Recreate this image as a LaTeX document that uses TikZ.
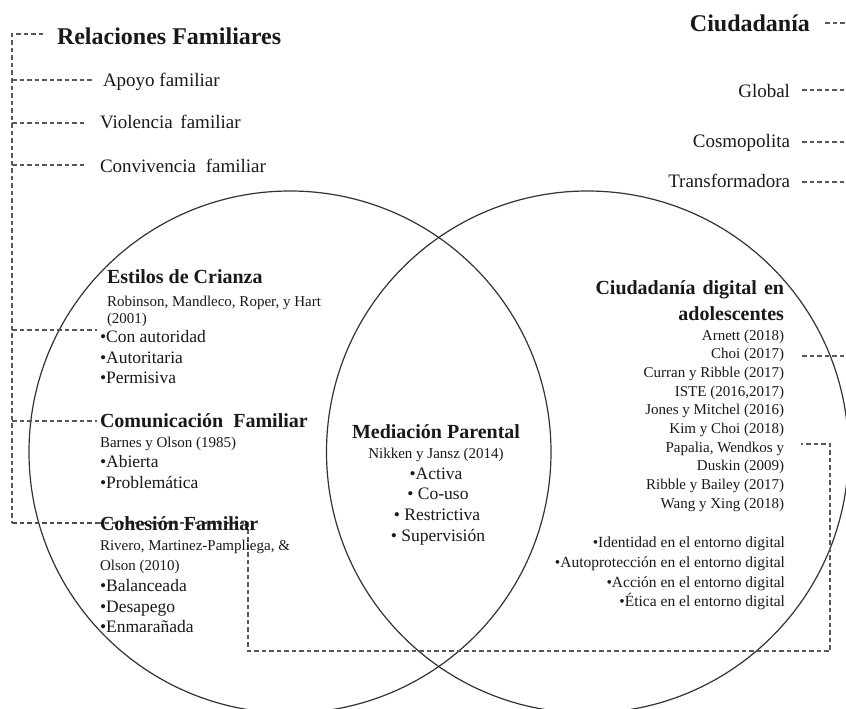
\documentclass[tikz,border=0pt]{standalone}
\usepackage{fontspec}
\setmainfont{Liberation Serif}
\begin{document}
\begin{tikzpicture}[x=1pt,y=-1pt,
  circ/.style={draw=black!80, line width=1.2pt, circle, inner sep=0pt, outer sep=0pt, minimum size=522pt},
  dline/.style={draw=black!65, line width=1.3pt, dash pattern=on 4.5pt off 3pt},
  dbold/.style={draw=black!70, line width=2pt, dash pattern=on 4.5pt off 3pt},
  txt/.style={inner sep=0pt, outer sep=0pt, text=black!90},
  hdr/.style={txt, font=\fontsize{24}{26}\selectfont\bfseries},
  sec/.style={txt, font=\fontsize{20}{22}\selectfont\bfseries},
  item/.style={txt, font=\fontsize{19}{21}\selectfont},
  body/.style={txt, font=\fontsize{15}{17}\selectfont},
  bul/.style={txt, font=\fontsize{17.5}{20}\selectfont},
  rbul/.style={txt, font=\fontsize{15.5}{18}\selectfont}
]
\useasboundingbox (0,0) rectangle (846,709);
\fill[white] (0,0) rectangle (846,709);

% circles
\node[circ] (lc) at (290,452) {};
\node[circ] (rc) at (587.5,452) {};

% left bracket coordinates
\coordinate (t0) at (12,34);   \coordinate (t1) at (43,34);
\coordinate (a0) at (12,80);   \coordinate (a1) at (92,80);
\coordinate (v0) at (12,123);  \coordinate (v1) at (85,123);
\coordinate (c0) at (12,165);  \coordinate (c1) at (85,165);
\coordinate (e0) at (12,330);  \coordinate (e1) at (97,330);
\coordinate (m0) at (12,421);  \coordinate (m1) at (97,421);
\coordinate (h0) at (12,523);  \coordinate (h1) at (97,523);
\coordinate (h2) at (248,523); \coordinate (h3) at (248,651);
\coordinate (h4) at (830,651); \coordinate (h5) at (830,444);
\coordinate (h6) at (801,444);

\draw[dline] (t1) -- (t0) -- (h0);
\draw[dline] (a0) -- (a1);
\draw[dline] (v0) -- (v1);
\draw[dline] (c0) -- (c1);
\draw[dline] (e0) -- (e1);
\draw[dline] (m0) -- (m1);
\draw[dbold] (h0) -- (h1);
\draw[dline] (h1) -- (h2) -- (h3) -- (h4) -- (h5) -- (h6);

% right dashes
\coordinate (q0) at (825,23);  \coordinate (q1) at (846,23);
\coordinate (g0) at (802,90);  \coordinate (g1) at (846,90);
\coordinate (k0) at (802,142); \coordinate (k1) at (846,142);
\coordinate (f0) at (802,182); \coordinate (f1) at (846,182);
\coordinate (s0) at (802,356); \coordinate (s1) at (846,356);
\draw[dline] (q0) -- (q1);
\draw[dline] (g0) -- (g1);
\draw[dline] (k0) -- (k1);
\draw[dline] (f0) -- (f1);
\draw[dline] (s0) -- (s1);

% top-left texts
\node[hdr, anchor=base west] (rf) at (57,45) {Relaciones Familiares};
\node[item, anchor=base west] (apoyo) at (103,87) {Apoyo familiar};
\node[item, anchor=base west] (viol) at (100,128) {Violencia\hspace{3pt} familiar};
\node[item, anchor=base west] (conv) at (100,172) {Convivencia\hspace{5pt} familiar};

% top-right texts
\node[hdr, anchor=base east] (ciu) at (810,32) {Ciudadanía};
\node[item, anchor=base east] (glob) at (790,97) {Global};
\node[item, anchor=base east] (cosm) at (790,147) {Cosmopolita};
\node[item, anchor=base east] (trans) at (790,187) {Transformadora};

% left circle texts
\node[sec, anchor=base west] (est) at (107,283) {Estilos de Crianza};
\node[body, anchor=base west] (rob) at (107,306) {Robinson, Mandleco, Roper, y Hart};
\node[body, anchor=base west] (rob2) at (107,323) {(2001)};
\node[bul, anchor=base west] (e1t) at (100,342) {•Con autoridad};
\node[bul, anchor=base west] (e2t) at (100,363) {•Autoritaria};
\node[bul, anchor=base west] (e3t) at (100,383) {•Permisiva};

\node[sec, anchor=base west] (com) at (100,427) {Comunicación\hspace{5pt} Familiar};
\node[body, anchor=base west] (bar) at (100,447) {Barnes y Olson (1985)};
\node[bul, anchor=base west] (m1t) at (100,467) {•Abierta};
\node[bul, anchor=base west] (m2t) at (100,488) {•Problemática};

\node[sec, anchor=base west] (coh) at (100,530) {Cohesión Familiar};
\node[body, anchor=base west] (riv) at (100,550) {Rivero, Martinez-Pampliega, \&};
\node[body, anchor=base west] (riv2) at (100,570) {Olson (2010)};
\node[bul, anchor=base west] (c1t) at (100,591) {•Balanceada};
\node[bul, anchor=base west] (c2t) at (100,612) {•Desapego};
\node[bul, anchor=base west] (c3t) at (100,632) {•Enmarañada};

% centre texts
\node[sec, anchor=base] (med) at (436,438) {Mediación Parental};
\node[body, anchor=base] (nik) at (436,458) {Nikken y Jansz (2014)};
\node[bul, anchor=base] (p1) at (436,479) {•Activa};
\node[bul, anchor=base] (p2) at (438,499) {• Co-uso};
\node[bul, anchor=base] (p3) at (437,520) {• Restrictiva};
\node[bul, anchor=base] (p4) at (438,541) {• Supervisión};

% right circle texts
\node[sec, anchor=base east] (cd1) at (784,294) {Ciudadanía\hspace{2pt} digital\hspace{2pt} en};
\node[sec, anchor=base east] (cd2) at (784,320) {adolescentes};
\foreach \t [count=\i] in {Arnett (2018), Choi (2017), Curran y Ribble (2017), {ISTE (2016,2017)}, Jones y Mitchel (2016), Kim y Choi (2018), {Papalia, Wendkos y}, Duskin (2009), Ribble y Bailey (2017), Wang y Xing (2018)}
  \node[body, anchor=base east] (ref\i) at (784,{340+18.7*(\i-1)}) {\t};
\node[rbul, anchor=base east] (d1) at (785,547) {•Identidad en el entorno digital};
\node[rbul, anchor=base east] (d2) at (785,567) {•Autoprotección en el entorno digital};
\node[rbul, anchor=base east] (d3) at (785,587) {•Acción en el entorno digital};
\node[rbul, anchor=base east] (d4) at (785,606) {•Ética en el entorno digital};
\end{tikzpicture}
\end{document}
